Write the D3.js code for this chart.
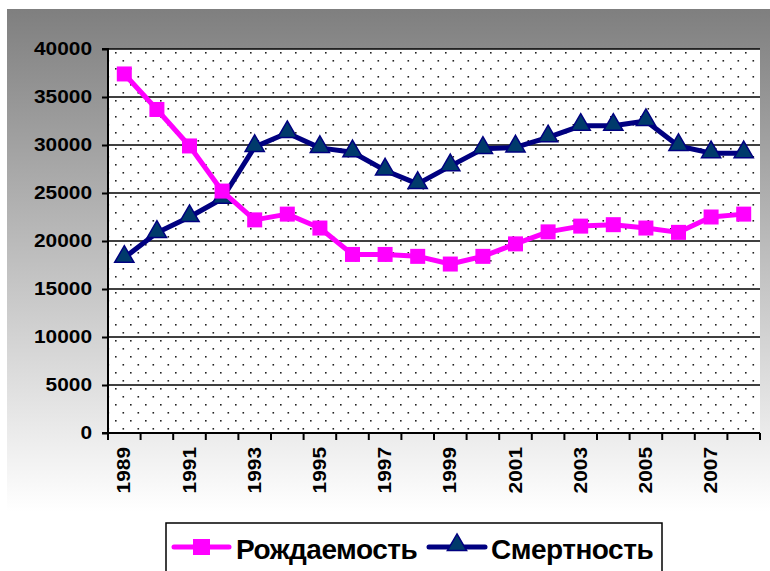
<!DOCTYPE html>
<html>
<head>
<meta charset="utf-8">
<script src="https://cdn.jsdelivr.net/npm/d3@7"></script>
<style>
  body { margin: 0; background: #fff; }
  svg { display: block; font-family: Arial, "Liberation Sans", sans-serif; }
</style>
</head>
<body>
<div id="chart"></div>
<script>
// data
const years = d3.range(1989, 2009).map(String);
const births = [37400, 33700, 29900, 25200, 22200, 22800, 21350, 18600, 18600, 18400,
                17600, 18400, 19700, 20950, 21550, 21700, 21350, 20900, 22500, 22800];
const deaths = [18250, 20850, 22500, 24400, 29800, 31250, 29700, 29250, 27350, 25950,
                27800, 29600, 29750, 30800, 32000, 32000, 32500, 29900, 29150, 29150];
const yTicks = [0, 5000, 10000, 15000, 20000, 25000, 30000, 35000, 40000];
const seriesNames = ["Рождаемость", "Смертность"];

const W = 770, H = 571;
const margin = {top: 49, right: 10, bottom: 138, left: 108};
const width = W - margin.left - margin.right,
    height = H - margin.top - margin.bottom;
const stretch = 1.16; // the original font is drawn wide

const svg = d3.select("#chart")
  .append("svg")
    .attr("width", W)
    .attr("height", H);

const defs = svg.append("defs");

// chart background: gray to white
const grad = defs.append("linearGradient")
    .attr("id", "bg").attr("x1", 0).attr("y1", 0).attr("x2", 0).attr("y2", 1);
grad.append("stop").attr("offset", "0%").attr("stop-color", "#7f7f7f");
grad.append("stop").attr("offset", "88%").attr("stop-color", "#ffffff");
grad.append("stop").attr("offset", "100%").attr("stop-color", "#ffffff");

// dotted plot area
const pat = defs.append("pattern")
    .attr("id", "dots")
    .attr("patternUnits", "userSpaceOnUse")
    .attr("width", 15).attr("height", 16)
    .attr("x", margin.left + 4).attr("y", margin.top + 2);
pat.append("rect").attr("width", 15).attr("height", 16).attr("fill", "#fff");
pat.append("rect").attr("x", 0).attr("y", 0).attr("width", 1.6).attr("height", 1.6).attr("fill", "#222");
pat.append("rect").attr("x", 7.5).attr("y", 8).attr("width", 1.6).attr("height", 1.6).attr("fill", "#222");

svg.append("rect")
    .attr("x", 7).attr("y", 9)
    .attr("width", W).attr("height", H)
    .attr("fill", "url(#bg)");

const g = svg.append("g")
    .attr("transform", `translate(${margin.left},${margin.top})`);

g.append("rect")
    .attr("width", width).attr("height", height)
    .attr("fill", "url(#dots)");

const x = d3.scaleBand().domain(years).range([0, width]);
const y = d3.scaleLinear().domain([0, 40000]).range([height, 0]);

// grid
g.selectAll(".grid")
  .data(yTicks.filter(d => d > 0))
  .join("line")
    .attr("x1", 0).attr("x2", width)
    .attr("y1", d => y(d)).attr("y2", d => y(d))
    .attr("stroke", "#000").attr("stroke-width", 1.5);

// Y axis
const yAxis = g.append("g")
    .call(d3.axisLeft(y).tickValues(yTicks).tickSize(6).tickPadding(10).tickFormat(d3.format("d")));
yAxis.select(".domain").attr("stroke-width", 2).attr("d", `M-6,${height}H0V0H-6`);
yAxis.selectAll(".tick line").attr("stroke-width", 2);
yAxis.selectAll("text")
    .attr("font-size", 18).attr("font-weight", "bold").attr("fill", "#000")
    .attr("font-family", "Arial, 'Liberation Sans', sans-serif")
    .attr("x", -16 / stretch)
    .attr("transform", `scale(${stretch},1)`);

// X axis: ticks between categories
const xAxis = g.append("g").attr("transform", `translate(0,${height})`);
xAxis.append("line")
    .attr("x1", 0).attr("x2", width)
    .attr("stroke", "#000").attr("stroke-width", 2);
xAxis.selectAll(".xt")
  .data(years.concat(["end"]))
  .join("line")
    .attr("x1", (d, i) => i * x.bandwidth()).attr("x2", (d, i) => i * x.bandwidth())
    .attr("y1", 0).attr("y2", 7)
    .attr("stroke", "#000").attr("stroke-width", 2);
xAxis.selectAll(".xl")
  .data(years.filter((d, i) => i % 2 === 0))
  .join("text")
    .attr("transform", d => `translate(${x(d) + x.bandwidth() / 2 + 6},14)rotate(-90)scale(${stretch},1)`)
    .attr("text-anchor", "end")
    .attr("font-size", 18).attr("font-weight", "bold")
    .text(d => d);

const cx = d => x(d) + x.bandwidth() / 2;
const line = d3.line().x(d => cx(d.year)).y(d => y(d.v));

const bData = years.map((yr, i) => ({year: yr, v: births[i]}));
const dData = years.map((yr, i) => ({year: yr, v: deaths[i]}));

const tri = d3.symbol().type(d3.symbolTriangle).size(160);

// deaths
g.append("path").datum(dData)
    .attr("d", line).attr("fill", "none")
    .attr("stroke", "#000080").attr("stroke-width", 5).attr("stroke-linejoin", "round");
g.selectAll(".tri").data(dData).join("path")
    .attr("d", tri)
    .attr("transform", d => `translate(${cx(d.year)},${y(d.v) - 1})`)
    .attr("fill", "#003a6b").attr("stroke", "#000080").attr("stroke-width", 1.5);

// births
g.append("path").datum(bData)
    .attr("d", line).attr("fill", "none")
    .attr("stroke", "#ff00ff").attr("stroke-width", 5).attr("stroke-linejoin", "round");
g.selectAll(".sq").data(bData).join("rect")
    .attr("x", d => cx(d.year) - 7.5).attr("y", d => y(d.v) - 7.5)
    .attr("width", 15).attr("height", 15)
    .attr("fill", "#ff00ff");

// legend
const lg = svg.append("g").attr("transform", "translate(166,523)");
lg.append("rect")
    .attr("width", 496).attr("height", 60)
    .attr("fill", "#fff").attr("stroke", "#000").attr("stroke-width", 1.5);

lg.append("line").attr("x1", 8).attr("x2", 63).attr("y1", 24).attr("y2", 24)
    .attr("stroke", "#ff00ff").attr("stroke-width", 5).attr("stroke-linecap", "round");
lg.append("rect").attr("x", 27).attr("y", 16).attr("width", 17).attr("height", 16).attr("fill", "#ff00ff");
lg.append("text").attr("x", 70).attr("y", 36)
    .attr("font-size", 28).attr("font-weight", "bold").attr("letter-spacing", -0.5)
    .text(seriesNames[0]);

lg.append("line").attr("x1", 263).attr("x2", 319).attr("y1", 24).attr("y2", 24)
    .attr("stroke", "#000080").attr("stroke-width", 5).attr("stroke-linecap", "round");
lg.append("path").attr("d", tri).attr("transform", "translate(291,22)")
    .attr("fill", "#003a6b").attr("stroke", "#000080").attr("stroke-width", 1.5);
lg.append("text").attr("x", 325).attr("y", 36)
    .attr("font-size", 28).attr("font-weight", "bold").attr("letter-spacing", -0.5)
    .text(seriesNames[1]);
</script>
</body>
</html>
